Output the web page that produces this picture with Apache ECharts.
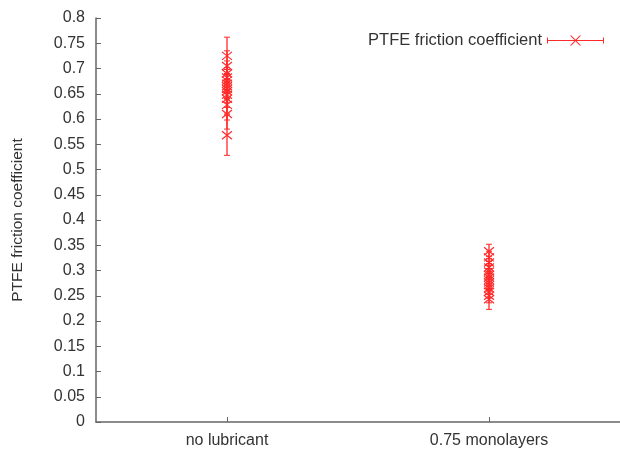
<!DOCTYPE html>
<html>
<head>
<meta charset="utf-8">
<script src="https://cdn.jsdelivr.net/npm/echarts@6/dist/echarts.min.js"></script>
<style>html,body{margin:0;padding:0;background:#fff}#c{width:620px;height:449px}</style>
</head>
<body>
<div id="c"></div>
<script>
var categories = ['no lubricant', '0.75 monolayers'];
var yTicks = [0, 0.05, 0.1, 0.15, 0.2, 0.25, 0.3, 0.35, 0.4, 0.45, 0.5, 0.55, 0.6, 0.65, 0.7, 0.75, 0.8];
var noLubMean = [0.725, 0.705, 0.69, 0.682, 0.676, 0.67, 0.665, 0.66, 0.655, 0.648, 0.64, 0.628, 0.61, 0.568];
var noLubErr  = [0.037, 0.03, 0.025, 0.02, 0.022, 0.02, 0.025, 0.02, 0.022, 0.025, 0.03, 0.03, 0.03, 0.04];
var monoMean  = [0.338, 0.326, 0.316, 0.306, 0.298, 0.291, 0.286, 0.281, 0.276, 0.271, 0.265, 0.258, 0.25, 0.243];
var monoErr   = [0.014, 0.012, 0.012, 0.012, 0.012, 0.012, 0.012, 0.012, 0.012, 0.012, 0.012, 0.012, 0.014, 0.02];
var seriesName = 'PTFE friction coefficient';

var data = [];
noLubMean.forEach(function (m, i) { data.push([0, m, noLubErr[i]]); });
monoMean.forEach(function (m, i) { data.push([1, m, monoErr[i]]); });

var RED = '#ff2a2a';

function ln(x1, y1, x2, y2, w) {
  return { type: 'line', shape: { x1: x1, y1: y1, x2: x2, y2: y2 },
           style: { stroke: RED, lineWidth: w, fill: null, opacity: 1 } };
}

function renderItem(params, api) {
  var x = api.value(0), m = api.value(1), e = api.value(2);
  var pc = api.coord([x, m]);
  var ph = api.coord([x, m + e]);
  var pl = api.coord([x, m - e]);
  var cx = pc[0];
  var cap = 3, s = 5, sy = 4;
  return {
    type: 'group',
    children: [
      ln(cx, ph[1], cx, pl[1], 1.3),
      ln(cx - cap, ph[1], cx + cap, ph[1], 1),
      ln(cx - cap, pl[1], cx + cap, pl[1], 1),
      ln(cx - s, pc[1] - sy, cx + s, pc[1] + sy, 1.2),
      ln(cx - s, pc[1] + sy, cx + s, pc[1] - sy, 1.2)
    ]
  };
}

// legend icon: line with end caps and an X in the middle (thin filled shapes)
var iconPath = 'path://M0,5.5L57,5.5L57,6.5L0,6.5Z M0,3L1,3L1,9L0,9Z M56,3L57,3L57,9L56,9Z ' +
  'M23,1L24.4,1L34,11L32.6,11Z M32.6,1L34,1L24.4,11L23,11Z';

var FONT = 'Liberation Sans, Arial, sans-serif';
var chart = echarts.init(document.getElementById('c'), null, { renderer: 'canvas' });
chart.setOption({
  animation: false,
  backgroundColor: '#fff',
  textStyle: { fontFamily: FONT },
  grid: { left: 96, top: 18, width: 531, bottom: 26, containLabel: false },
  legend: {
    data: [{ name: seriesName, icon: iconPath, itemStyle: { color: RED } }],
    right: 11, top: 27, align: 'right',
    itemWidth: 57, itemHeight: 12, itemGap: 8,
    textStyle: { fontSize: 16.5, color: '#333', fontFamily: FONT }
  },
  xAxis: {
    type: 'category',
    data: categories,
    boundaryGap: true,
    axisLine: { lineStyle: { color: '#666', width: 1.5 } },
    axisTick: { show: true, inside: true, alignWithLabel: true, length: 5, lineStyle: { color: '#666' } },
    axisLabel: { fontSize: 16, color: '#333', margin: 11 },
    splitLine: { show: false }
  },
  yAxis: {
    type: 'value',
    min: yTicks[0], max: yTicks[yTicks.length - 1], interval: 0.05,
    name: 'PTFE friction coefficient',
    nameLocation: 'middle', nameGap: 70, nameRotate: 90,
    nameTextStyle: { fontSize: 15.5, color: '#333' },
    axisLine: { show: true, lineStyle: { color: '#666', width: 1.5 } },
    axisTick: { show: true, inside: true, length: 5, lineStyle: { color: '#666' } },
    axisLabel: { fontSize: 16, color: '#333', margin: 11, formatter: function (v) { return String(+v.toFixed(2)); } },
    splitLine: { show: false }
  },
  series: [{
    name: seriesName,
    type: 'custom',
    renderItem: renderItem,
    itemStyle: { color: RED },
    encode: { x: 0, y: 1 },
    data: data,
    clip: false
  }]
});
</script>
</body>
</html>
